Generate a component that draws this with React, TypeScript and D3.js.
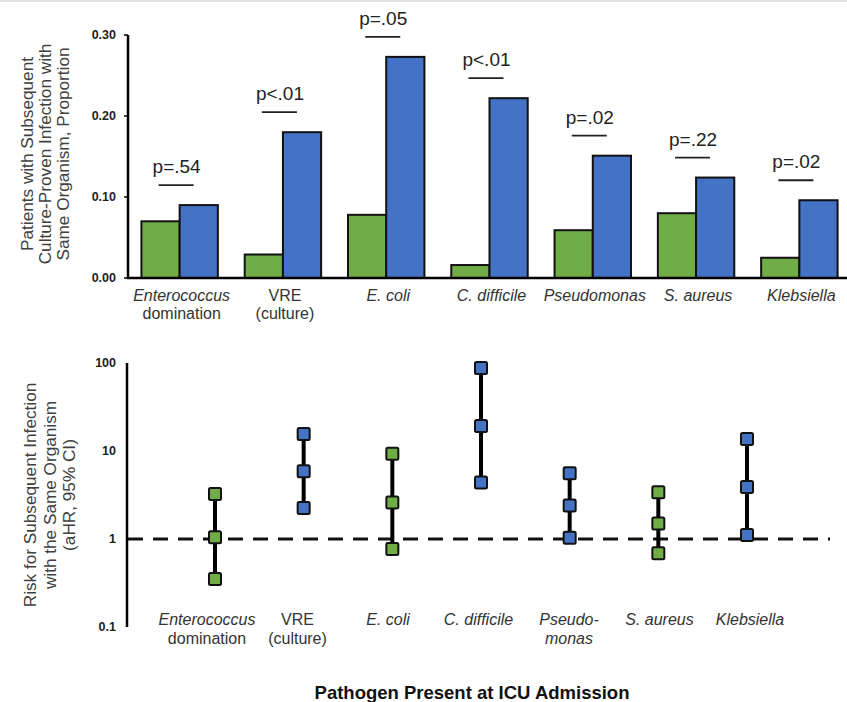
import React from "react";
import { scaleBand, scaleLinear, scaleLog, scalePoint } from "d3";

// categories, with the line split used under each axis
const categories = ["Enterococcus", "VRE", "E. coli", "C. difficile", "Pseudomonas", "S. aureus", "Klebsiella"];
const topLabels = [
  [{ t: "Enterococcus", i: true }, { t: "domination", i: false }],
  [{ t: "VRE", i: false }, { t: "(culture)", i: false }],
  [{ t: "E. coli", i: true }],
  [{ t: "C. difficile", i: true }],
  [{ t: "Pseudomonas", i: true }],
  [{ t: "S. aureus", i: true }],
  [{ t: "Klebsiella", i: true }],
];
const bottomLabels = [
  [{ t: "Enterococcus", i: true }, { t: "domination", i: false }],
  [{ t: "VRE", i: false }, { t: "(culture)", i: false }],
  [{ t: "E. coli", i: true }],
  [{ t: "C. difficile", i: true }],
  [{ t: "Pseudo-", i: true }, { t: "monas", i: true }],
  [{ t: "S. aureus", i: true }],
  [{ t: "Klebsiella", i: true }],
];

// proportions: pathogen absent (green) vs present (blue) at ICU admission
const absentProp = [0.07, 0.029, 0.078, 0.016, 0.059, 0.08, 0.025];
const presentProp = [0.09, 0.18, 0.273, 0.222, 0.151, 0.124, 0.096];
const pValues = ["p=.54", "p<.01", "p=.05", "p<.01", "p=.02", "p=.22", "p=.02"];
const propTicks = [0, 0.1, 0.2, 0.3];

// adjusted hazard ratios with 95% CI
const hrLow = [0.35, 2.25, 0.77, 4.4, 1.03, 0.69, 1.11];
const hrEst = [1.05, 5.9, 2.6, 19.2, 2.4, 1.5, 3.9];
const hrHigh = [3.25, 15.6, 9.3, 88, 5.6, 3.4, 13.7];
const significant = [false, true, false, true, true, false, true];
const hrTicks = [0.1, 1, 10, 100];

const GREEN = "#70ad47";
const BLUE = "#4472c4";
const FONT = "'Liberation Sans', Arial, sans-serif";

export default function App() {
  // top panel scales
  const x0 = scaleBand<string>().domain(categories).range([128, 851]).paddingInner(0.26).paddingOuter(0.13);
  const x1 = scaleBand<string>().domain(["absent", "present"]).range([0, x0.bandwidth()]);
  const y = scaleLinear().domain([0, 0.3]).range([278, 35]);

  // bottom panel scales
  const xp = scalePoint<string>().domain(categories).range([215, 747]);
  const xl = scalePoint<string>().domain(categories).range([207, 750]);
  const yl = scaleLog().domain([0.1, 100]).range([627, 363]);

  const tickFmt = (v: number) => v.toFixed(2);

  return (
    <svg width={847} height={702} style={{ position: "absolute", left: 0, top: 0, background: "#fff" }} fontFamily={FONT}>
      <line x1={0} x2={847} y1={1} y2={1} stroke="#e2e2e2" strokeWidth={2} />

      {/* ---------- top: proportions ---------- */}
      <text transform="translate(51,154) rotate(-90)" textAnchor="middle" fontSize={17.2} fill="#404040">
        <tspan x={0} dy={-18}>Patients with Subsequent</tspan>
        <tspan x={0} dy={18}>Culture-Proven Infection with</tspan>
        <tspan x={0} dy={18}>Same Organism, Proportion</tspan>
      </text>

      {propTicks.map((t) => (
        <g key={t}>
          <line x1={124} x2={128} y1={y(t)} y2={y(t)} stroke="#000" strokeWidth={1.5} />
          <text x={116} y={y(t)} dy="0.35em" textAnchor="end" fontSize={12.5} fontWeight="bold" fill="#222">
            {tickFmt(t)}
          </text>
        </g>
      ))}

      {categories.map((c, i) => {
        const gx = x0(c)!;
        const cx = gx + x0.bandwidth() / 2;
        const lineY = y(presentProp[i]) - 20;
        return (
          <g key={c}>
            <rect x={gx + x1("absent")!} y={y(absentProp[i])} width={x1.bandwidth()} height={y(0) - y(absentProp[i])}
              fill={GREEN} stroke="#111" strokeWidth={2} />
            <rect x={gx + x1("present")!} y={y(presentProp[i])} width={x1.bandwidth()} height={y(0) - y(presentProp[i])}
              fill={BLUE} stroke="#111" strokeWidth={2} />
            <line x1={cx - 21} x2={cx + 14} y1={lineY} y2={lineY} stroke="#222" strokeWidth={1.8} />
            <text x={cx - 3} y={lineY - 12} textAnchor="middle" fontSize={19} fill="#222">{pValues[i]}</text>
            {topLabels[i].map((l, k) => (
              <text key={k} x={cx + 2} y={301 + k * 18} textAnchor="middle" fontSize={16} fill="#333"
                fontStyle={l.i ? "italic" : "normal"}>{l.t}</text>
            ))}
          </g>
        );
      })}

      <line x1={128} x2={128} y1={35} y2={279} stroke="#000" strokeWidth={2.5} />
      <line x1={127} x2={847} y1={278} y2={278} stroke="#000" strokeWidth={2.5} />

      {/* ---------- bottom: hazard ratios ---------- */}
      <text transform="translate(55.5,495) rotate(-90)" textAnchor="middle" fontSize={17.2} fill="#404040">
        <tspan x={0} dy={-19.5}>Risk for Subsequent Infection</tspan>
        <tspan x={0} dy={19.5}>with the Same Organism</tspan>
        <tspan x={0} dy={19.5}>(aHR, 95% CI)</tspan>
      </text>

      {hrTicks.map((t) => (
        <text key={t} x={116} y={yl(t)} dy="0.35em" textAnchor="end" fontSize={12.5} fontWeight="bold" fill="#222">
          {String(t)}
        </text>
      ))}
      <line x1={127} x2={127} y1={yl(100)} y2={yl(0.1)} stroke="#000" strokeWidth={2.5} />

      <line x1={128} x2={830} y1={yl(1)} y2={yl(1)} stroke="#111" strokeWidth={3} strokeDasharray="15 10" />

      {categories.map((c, i) => {
        const cx = xp(c)!;
        const fill = significant[i] ? BLUE : GREEN;
        return (
          <g key={c}>
            <line x1={cx} x2={cx} y1={yl(hrLow[i])} y2={yl(hrHigh[i])} stroke="#000" strokeWidth={4} />
            {[hrLow[i], hrEst[i], hrHigh[i]].map((v, k) => (
              <rect key={k} x={cx - 6} y={yl(v) - 6} width={12} height={12} rx={1.5}
                fill={fill} stroke="#111" strokeWidth={2} />
            ))}
            {bottomLabels[i].map((l, k) => (
              <text key={k} x={xl(c)!} y={625 + k * 18.5} textAnchor="middle" fontSize={16} fill="#333"
                fontStyle={l.i ? "italic" : "normal"}>{l.t}</text>
            ))}
          </g>
        );
      })}

      <text x={472} y={699} textAnchor="middle" fontSize={18.5} fontWeight="bold" fill="#111">
        Pathogen Present at ICU Admission
      </text>
    </svg>
  );
}
